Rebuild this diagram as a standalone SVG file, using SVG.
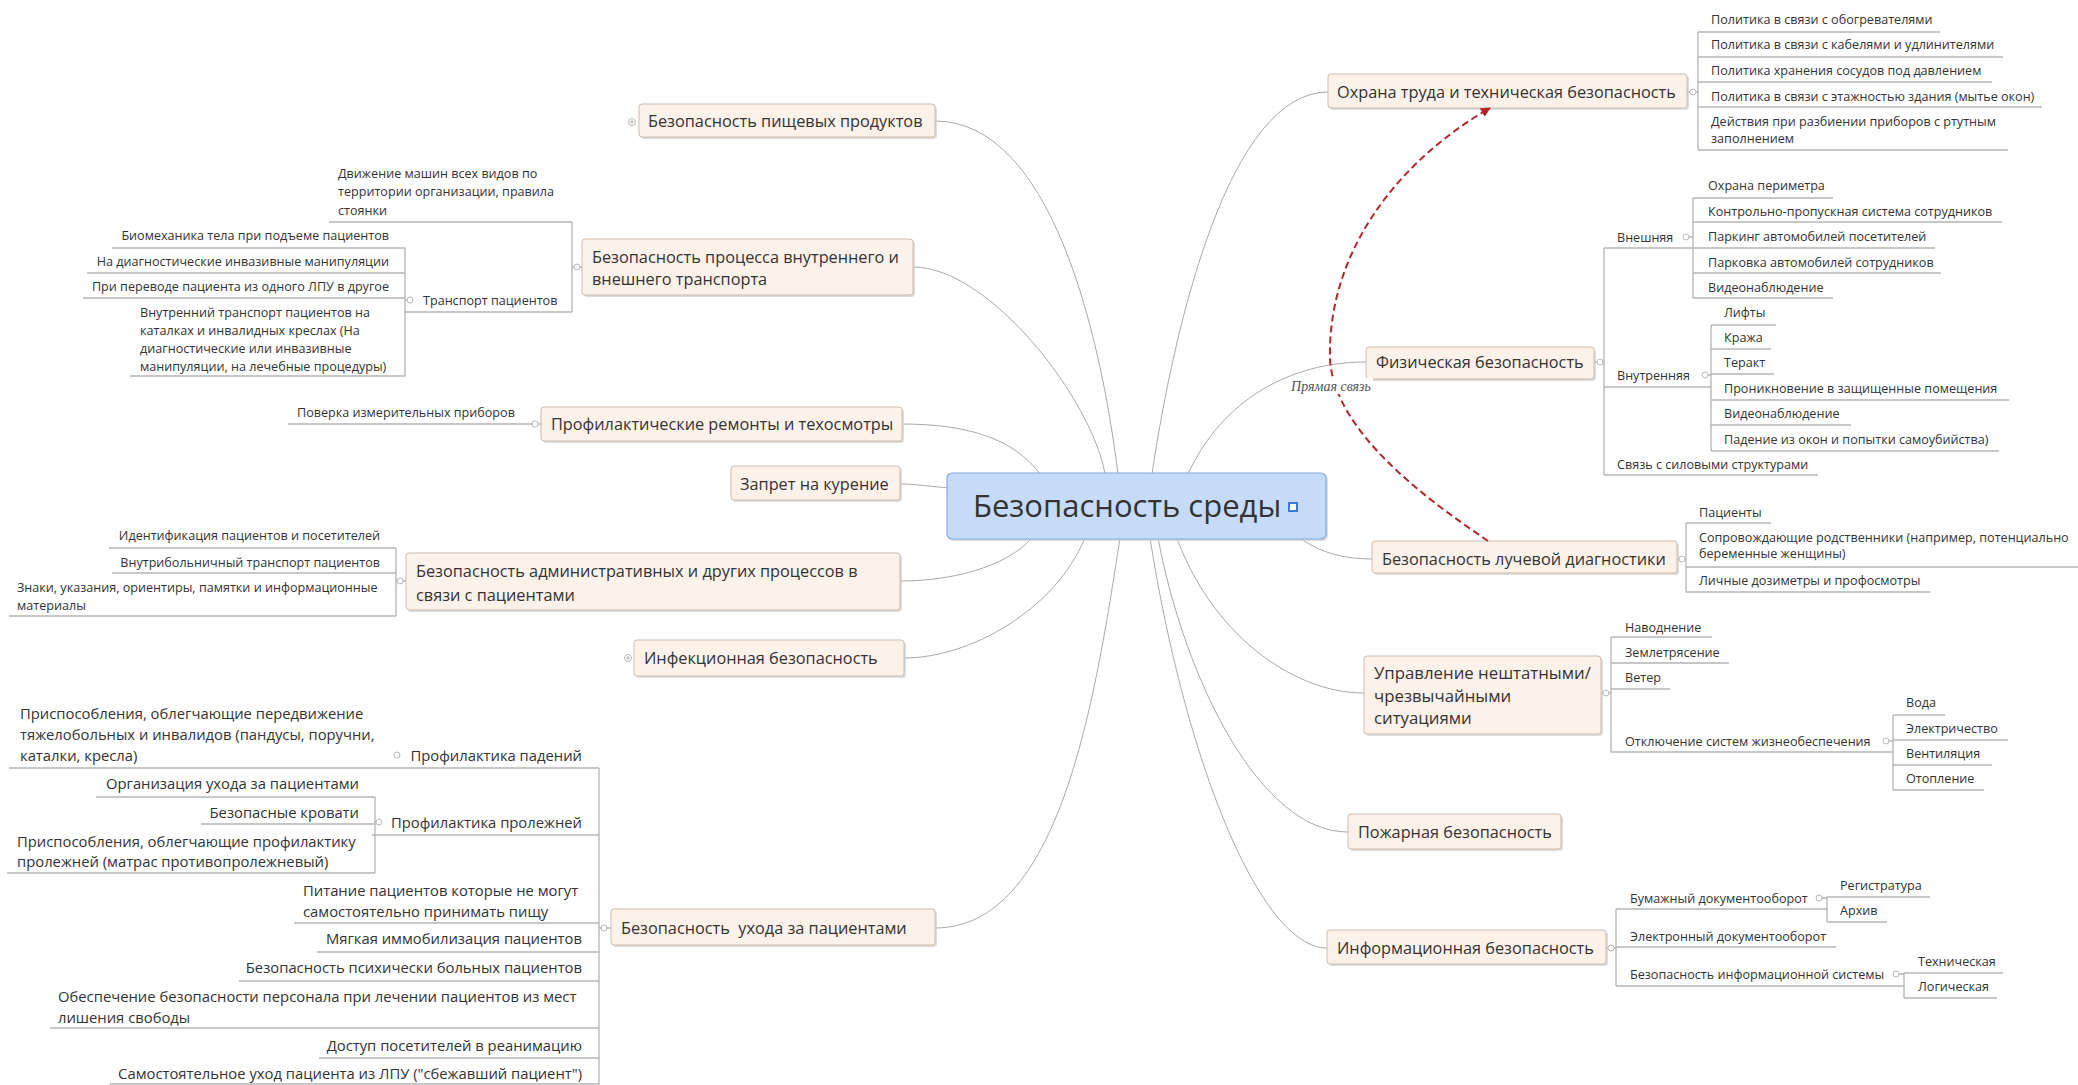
<svg xmlns="http://www.w3.org/2000/svg" width="2078" height="1085" viewBox="0 0 2078 1085">
<style>
.bg{fill:#ffffff}
.box{fill:#fdf2ea;stroke:#cbbcaf;stroke-width:1}
.sh{fill:#cfcfcf;opacity:.7}
.root{fill:#c6dbf7;stroke:#86a8db;stroke-width:1.2}
.t{font-family:'Open Sans','Liberation Sans',sans-serif;fill:#333}
.m{font-size:16.3px}
.s{font-size:12.6px}
.b{font-size:14.8px}
.ul{stroke:#b4b4b4;stroke-width:1.3;fill:none}
.conn{stroke:#a9a9a9;stroke-width:1;fill:none}
.knob{fill:#fff;stroke:#b8b8b8;stroke-width:1}
.rel{stroke:#b3262c;stroke-width:2;fill:none;stroke-dasharray:7 4}
</style>
<defs>
<marker id="arr" viewBox="0 0 10 10" refX="9" refY="5" markerWidth="5" markerHeight="5" orient="auto" markerUnits="strokeWidth">
<path d="M0,0 L10,5 L0,10 z" fill="#b3262c"/>
</marker>
</defs>
<rect class="bg" x="0" y="0" width="2078" height="1085"/>

<g id="connectors">
<path class="conn" d="M1118,474 C1100,330 1050,121 935,121"/>
<path class="conn" d="M1105,474 C1092,400 990,267 913,267"/>
<path class="conn" d="M1040,474 C1015,440 970,424 902,424"/>
<path class="conn" d="M950,488 C925,486 915,484 900,484"/>
<path class="conn" d="M1032,538 C1005,568 950,581 900,581"/>
<path class="conn" d="M1085,538 C1055,610 970,658 904,658"/>
<path class="conn" d="M1120,538 C1095,700 1060,928 935,928"/>
<path class="conn" d="M1152,474 C1175,320 1230,92 1328,92"/>
<path class="conn" d="M1188,474 C1222,400 1290,362 1366,362"/>
<path class="conn" d="M1290,530 C1310,548 1335,559 1372,559"/>
<path class="conn" d="M1177,538 C1210,630 1290,693 1364,693"/>
<path class="conn" d="M1158,538 C1185,680 1260,832 1348,832"/>
<path class="conn" d="M1150,538 C1185,760 1260,948 1327,948"/>
<path class="ul" d="M572,222 V312 M582,267 H572"/>
<path class="ul" d="M405,248 V376 M410,300 H405"/>
<path class="ul" d="M541,424 H533"/>
<path class="ul" d="M396,548 V616 M406,581 H396"/>
<path class="ul" d="M599,768 V1085 M611,928 H599"/>
<path class="ul" d="M375,797 V873 M379,822 H375"/>
<path class="ul" d="M1698,32 V150 M1687,92 H1698"/>
<path class="ul" d="M1604,248 V475 M1594,362 H1604"/>
<path class="ul" d="M1693,198 V298 M1688,237 H1693"/>
<path class="ul" d="M1711,325 V451 M1707,375 H1711"/>
<path class="ul" d="M1686,523 V592 M1677,559 H1686"/>
<path class="ul" d="M1611,637 V752 M1601,693 H1611"/>
<path class="ul" d="M1893,715 V790 M1888,741 H1893"/>
<path class="ul" d="M1616,909 V986 M1606,948 H1616"/>
<path class="ul" d="M1827,897 V922 M1821,898 H1827"/>
<path class="ul" d="M1904,973 V998 M1898,974 H1904"/>
</g>

<g id="n-root">
<rect class="sh" x="949" y="475" width="379" height="66" rx="5"/>
<rect class="root" x="947" y="473" width="379" height="66" rx="5"/>
<text class="t" x="973" y="517" font-size="31" fill="#38404a">Безопасность среды</text>
<rect x="1288" y="502" width="10" height="10" fill="#3b78d8"/>
<rect x="1290" y="504" width="6" height="6" fill="#ffffff"/>
</g>

<g id="n-food">
<rect class="sh" x="641" y="106" width="296" height="33" rx="3"/>
<rect class="box" x="639" y="104" width="296" height="33" rx="3"/>
<text class="t m" x="648" y="127">Безопасность пищевых продуктов</text>
<circle class="knob" cx="632" cy="122" r="3.5"/>
<path d="M630,122 H634 M632,120 V124" stroke="#b8b8b8" stroke-width="1"/>
</g>

<g id="n-transport">
<rect class="sh" x="584" y="241" width="331" height="56" rx="3"/>
<rect class="box" x="582" y="239" width="331" height="56" rx="3"/>
<text class="t m" x="592" y="263">Безопасность процесса внутреннего и</text>
<text class="t m" x="592" y="285">внешнего транспорта</text>
<circle class="knob" cx="577" cy="267" r="3"/>
</g>
<g id="n-transport-1">
<text class="t s" x="338" y="177.5">Движение машин всех видов по<tspan x="338" dy="18.5">территории организации, правила</tspan><tspan x="338" dy="18.5">стоянки</tspan></text>
<path class="ul" d="M329,222 H572"/>
</g>
<g id="n-transport-2">
<text class="t s" x="423" y="304.5">Транспорт пациентов</text>
<path class="ul" d="M405,312 H572"/>
<circle class="knob" cx="410" cy="300" r="3"/>
</g>
<g id="n-tp-1"><text class="t s" x="389" y="239.5" text-anchor="end">Биомеханика тела при подъеме пациентов</text><path class="ul" d="M112,248 H405"/></g>
<g id="n-tp-2"><text class="t s" x="389" y="265.5" text-anchor="end">На диагностические инвазивные манипуляции</text><path class="ul" d="M87,273 H405"/></g>
<g id="n-tp-3"><text class="t s" x="389" y="290.5" text-anchor="end">При переводе пациента из одного ЛПУ в другое</text><path class="ul" d="M83,298 H405"/></g>
<g id="n-tp-4"><text class="t s" x="140" y="316.5">Внутренний транспорт пациентов на<tspan x="140" dy="18">каталках и инвалидных креслах (На</tspan><tspan x="140" dy="18">диагностические или инвазивные</tspan><tspan x="140" dy="18">манипуляции, на лечебные процедуры)</tspan></text><path class="ul" d="M130,376 H405"/></g>

<g id="n-profil">
<rect class="sh" x="543" y="409" width="361" height="34" rx="3"/>
<rect class="box" x="541" y="407" width="361" height="34" rx="3"/>
<text class="t m" x="551" y="430">Профилактические ремонты и техосмотры</text>
<circle class="knob" cx="535" cy="424" r="3"/>
</g>
<g id="n-profil-1"><text class="t s" x="297" y="416.5">Поверка измерительных приборов</text><path class="ul" d="M288,424 H532"/></g>

<g id="n-zapret">
<rect class="sh" x="733" y="468" width="169" height="34" rx="3"/>
<rect class="box" x="731" y="466" width="169" height="34" rx="3"/>
<text class="t m" x="740" y="490">Запрет на курение</text>
</g>

<g id="n-admin">
<rect class="sh" x="408" y="555" width="494" height="57" rx="3"/>
<rect class="box" x="406" y="553" width="494" height="57" rx="3"/>
<text class="t m" x="416" y="577">Безопасность административных и других процессов в</text>
<text class="t m" x="416" y="601">связи с пациентами</text>
<circle class="knob" cx="400" cy="581" r="3"/>
</g>
<g id="n-admin-1"><text class="t s" x="380" y="539.5" text-anchor="end">Идентификация пациентов и посетителей</text><path class="ul" d="M109,548 H396"/></g>
<g id="n-admin-2"><text class="t s" x="380" y="566.5" text-anchor="end">Внутрибольничный транспорт пациентов</text><path class="ul" d="M112,573 H396"/></g>
<g id="n-admin-3"><text class="t s" x="17" y="591.5">Знаки, указания, ориентиры, памятки и информационные<tspan x="17" dy="18">материалы</tspan></text><path class="ul" d="M9,616 H396"/></g>

<g id="n-infek">
<rect class="sh" x="636" y="642" width="270" height="36" rx="3"/>
<rect class="box" x="634" y="640" width="270" height="36" rx="3"/>
<text class="t m" x="644" y="664">Инфекционная безопасность</text>
<circle class="knob" cx="628" cy="658" r="3.5"/>
<path d="M626,658 H630 M628,656 V660" stroke="#b8b8b8" stroke-width="1"/>
</g>

<g id="n-ukhod">
<rect class="sh" x="613" y="911" width="324" height="36" rx="3"/>
<rect class="box" x="611" y="909" width="324" height="36" rx="3"/>
<text class="t m" x="621" y="934" xml:space="preserve">Безопасность  ухода за пациентами</text>
<circle class="knob" cx="604" cy="928" r="3"/>
</g>
<g id="n-uk-1"><text class="t b" x="582" y="760.5" text-anchor="end">Профилактика падений</text><circle class="knob" cx="397" cy="755" r="3"/><path class="ul" d="M9,768 H599"/></g>
<g id="n-uk-1-1"><text class="t b" x="20" y="718.5">Приспособления, облегчающие передвижение<tspan x="20" dy="21">тяжелобольных и инвалидов (пандусы, поручни,</tspan><tspan x="20" dy="21">каталки, кресла)</tspan></text></g>
<g id="n-uk-2"><text class="t b" x="582" y="827.5" text-anchor="end">Профилактика пролежней</text><circle class="knob" cx="379" cy="822" r="3"/><path class="ul" d="M372,835 H599"/></g>
<g id="n-uk-2-1"><text class="t b" x="359" y="788.5" text-anchor="end">Организация ухода за пациентами</text><path class="ul" d="M96,797 H375"/></g>
<g id="n-uk-2-2"><text class="t b" x="359" y="817.5" text-anchor="end">Безопасные кровати</text><path class="ul" d="M201,824 H375"/></g>
<g id="n-uk-2-3"><text class="t b" x="17" y="846.5">Приспособления, облегчающие профилактику<tspan x="17" dy="20">пролежней (матрас противопролежневый)</tspan></text><path class="ul" d="M7,873 H375"/></g>
<g id="n-uk-3"><text class="t b" x="303" y="895.5">Питание пациентов которые не могут<tspan x="303" dy="21">самостоятельно принимать пищу</tspan></text><path class="ul" d="M294,923 H599"/></g>
<g id="n-uk-4"><text class="t b" x="582" y="943.5" text-anchor="end">Мягкая иммобилизация пациентов</text><path class="ul" d="M317,952 H599"/></g>
<g id="n-uk-5"><text class="t b" x="582" y="972.5" text-anchor="end">Безопасность психически больных пациентов</text><path class="ul" d="M239,981 H599"/></g>
<g id="n-uk-6"><text class="t b" x="58" y="1001.5">Обеспечение безопасности персонала при лечении пациентов из мест<tspan x="58" dy="21">лишения свободы</tspan></text><path class="ul" d="M50,1028 H599"/></g>
<g id="n-uk-7"><text class="t b" x="582" y="1050.5" text-anchor="end">Доступ посетителей в реанимацию</text><path class="ul" d="M319,1058 H599"/></g>
<g id="n-uk-8"><text class="t b" x="582" y="1078.5" text-anchor="end">Самостоятельное уход пациента из ЛПУ ("сбежавший пациент")</text><path class="ul" d="M110,1084 H599"/></g>

<g id="n-okhrana">
<rect class="sh" x="1330" y="76" width="359" height="34" rx="3"/>
<rect class="box" x="1328" y="74" width="359" height="34" rx="3"/>
<text class="t m" x="1337" y="98">Охрана труда и техническая безопасность</text>
<circle class="knob" cx="1693" cy="92" r="3"/>
</g>
<g id="n-ok-1"><text class="t s" x="1711" y="23.5">Политика в связи с обогревателями</text><path class="ul" d="M1698,32 H1940"/></g>
<g id="n-ok-2"><text class="t s" x="1711" y="48.5">Политика в связи с кабелями и удлинителями</text><path class="ul" d="M1698,57 H2003"/></g>
<g id="n-ok-3"><text class="t s" x="1711" y="74.5">Политика хранения сосудов под давлением</text><path class="ul" d="M1698,82 H1992"/></g>
<g id="n-ok-4"><text class="t s" x="1711" y="100.5">Политика в связи с этажностью здания (мытье окон)</text><path class="ul" d="M1698,107 H2042"/></g>
<g id="n-ok-5"><text class="t s" x="1711" y="125.5">Действия при разбиении приборов с ртутным<tspan x="1711" dy="17">заполнением</tspan></text><path class="ul" d="M1698,150 H2008"/></g>

<g id="n-fiz">
<rect class="sh" x="1368" y="349" width="228" height="32" rx="3"/>
<rect class="box" x="1366" y="347" width="228" height="32" rx="3"/>
<text class="t m" x="1376" y="368">Физическая безопасность</text>
<circle class="knob" cx="1600" cy="362" r="3"/>
</g>
<g id="n-fiz-ext"><text class="t s" x="1617" y="241.5">Внешняя</text><path class="ul" d="M1604,248 H1693"/><circle class="knob" cx="1686" cy="237" r="3"/></g>
<g id="n-ext-1"><text class="t s" x="1708" y="189.5">Охрана периметра</text><path class="ul" d="M1693,198 H1833"/></g>
<g id="n-ext-2"><text class="t s" x="1708" y="215.5">Контрольно-пропускная система сотрудников</text><path class="ul" d="M1693,222 H2002"/></g>
<g id="n-ext-3"><text class="t s" x="1708" y="240.5">Паркинг автомобилей посетителей</text><path class="ul" d="M1693,248 H1935"/></g>
<g id="n-ext-4"><text class="t s" x="1708" y="266.5">Парковка автомобилей сотрудников</text><path class="ul" d="M1693,273 H1941"/></g>
<g id="n-ext-5"><text class="t s" x="1708" y="291.5">Видеонаблюдение</text><path class="ul" d="M1693,298 H1833"/></g>
<g id="n-fiz-int"><text class="t s" x="1617" y="379.5">Внутренняя</text><path class="ul" d="M1604,387 H1711"/><circle class="knob" cx="1705" cy="375" r="3"/></g>
<g id="n-int-1"><text class="t s" x="1724" y="316.5">Лифты</text><path class="ul" d="M1711,325 H1776"/></g>
<g id="n-int-2"><text class="t s" x="1724" y="341.5">Кража</text><path class="ul" d="M1711,349 H1771"/></g>
<g id="n-int-3"><text class="t s" x="1724" y="366.5">Теракт</text><path class="ul" d="M1711,374 H1774"/></g>
<g id="n-int-4"><text class="t s" x="1724" y="392.5">Проникновение в защищенные помещения</text><path class="ul" d="M1711,400 H2009"/></g>
<g id="n-int-5"><text class="t s" x="1724" y="417.5">Видеонаблюдение</text><path class="ul" d="M1711,425 H1851"/></g>
<g id="n-int-6"><text class="t s" x="1724" y="443.5">Падение из окон и попытки самоубийства)</text><path class="ul" d="M1711,451 H1999"/></g>
<g id="n-fiz-3"><text class="t s" x="1617" y="468.5">Связь с силовыми структурами</text><path class="ul" d="M1604,475 H1818"/></g>

<g id="n-luch">
<rect class="sh" x="1374" y="543" width="305" height="32" rx="3"/>
<rect class="box" x="1372" y="541" width="305" height="32" rx="3"/>
<text class="t m" x="1382" y="565">Безопасность лучевой диагностики</text>
<circle class="knob" cx="1682" cy="559" r="3"/>
</g>
<g id="n-luch-1"><text class="t s" x="1699" y="516.5">Пациенты</text><path class="ul" d="M1686,523 H1771"/></g>
<g id="n-luch-2"><text class="t s" x="1699" y="541.5">Сопровождающие родственники (например, потенциально<tspan x="1699" dy="16">беременные женщины)</tspan></text><path class="ul" d="M1686,567 H2078"/></g>
<g id="n-luch-3"><text class="t s" x="1699" y="584.5">Личные дозиметры и профосмотры</text><path class="ul" d="M1686,592 H1930"/></g>

<g id="n-upr">
<rect class="sh" x="1366" y="658" width="237" height="78" rx="3"/>
<rect class="box" x="1364" y="656" width="237" height="78" rx="3"/>
<text class="t" font-size="16.8" x="1374" y="679">Управление нештатными/<tspan x="1374" dy="23">чрезвычайными</tspan><tspan x="1374" dy="22">ситуациями</tspan></text>
<circle class="knob" cx="1606" cy="693" r="3"/>
</g>
<g id="n-upr-1"><text class="t s" x="1625" y="631.5">Наводнение</text><path class="ul" d="M1611,637 H1712"/></g>
<g id="n-upr-2"><text class="t s" x="1625" y="656.5">Землетрясение</text><path class="ul" d="M1611,663 H1729"/></g>
<g id="n-upr-3"><text class="t s" x="1625" y="681.5">Ветер</text><path class="ul" d="M1611,689 H1670"/></g>
<g id="n-upr-4"><text class="t s" x="1625" y="745.5">Отключение систем жизнеобеспечения</text><path class="ul" d="M1611,752 H1893"/><circle class="knob" cx="1886" cy="741" r="3"/></g>
<g id="n-upr-4-1"><text class="t s" x="1906" y="706.5">Вода</text><path class="ul" d="M1893,715 H1945"/></g>
<g id="n-upr-4-2"><text class="t s" x="1906" y="732.5">Электричество</text><path class="ul" d="M1893,740 H2008"/></g>
<g id="n-upr-4-3"><text class="t s" x="1906" y="757.5">Вентиляция</text><path class="ul" d="M1893,765 H1992"/></g>
<g id="n-upr-4-4"><text class="t s" x="1906" y="782.5">Отопление</text><path class="ul" d="M1893,790 H1984"/></g>

<g id="n-pozh">
<rect class="sh" x="1350" y="816" width="213" height="35" rx="3"/>
<rect class="box" x="1348" y="814" width="213" height="35" rx="3"/>
<text class="t m" x="1358" y="838">Пожарная безопасность</text>
</g>

<g id="n-info">
<rect class="sh" x="1329" y="932" width="279" height="34" rx="3"/>
<rect class="box" x="1327" y="930" width="279" height="34" rx="3"/>
<text class="t m" x="1337" y="954">Информационная безопасность</text>
<circle class="knob" cx="1611" cy="948" r="3"/>
</g>
<g id="n-info-1"><text class="t s" x="1630" y="902.5">Бумажный документооборот</text><path class="ul" d="M1616,909 H1827"/><circle class="knob" cx="1819" cy="898" r="3"/></g>
<g id="n-info-1-1"><text class="t s" x="1840" y="889.5">Регистратура</text><path class="ul" d="M1827,897 H1930"/></g>
<g id="n-info-1-2"><text class="t s" x="1840" y="914.5">Архив</text><path class="ul" d="M1827,922 H1887"/></g>
<g id="n-info-2"><text class="t s" x="1630" y="940.5">Электронный документооборот</text><path class="ul" d="M1616,947 H1836"/></g>
<g id="n-info-3"><text class="t s" x="1630" y="978.5">Безопасность информационной системы</text><path class="ul" d="M1616,986 H1904"/><circle class="knob" cx="1896" cy="974" r="3"/></g>
<g id="n-info-3-1"><text class="t s" x="1918" y="965.5">Техническая</text><path class="ul" d="M1904,973 H2003"/></g>
<g id="n-info-3-2"><text class="t s" x="1918" y="990.5">Логическая</text><path class="ul" d="M1904,998 H1997"/></g>

<g id="relationship">
<path class="rel" d="M1488,541 C1420,495 1335,430 1330,360 C1327,250 1400,160 1490,108" marker-end="url(#arr)"/>
<rect x="1289" y="378" width="84" height="16" fill="#ffffff"/>
<text x="1331" y="390.5" text-anchor="middle" font-family="'Liberation Serif',serif" font-style="italic" font-size="14" fill="#555">Прямая связь</text>
</g>
</svg>
